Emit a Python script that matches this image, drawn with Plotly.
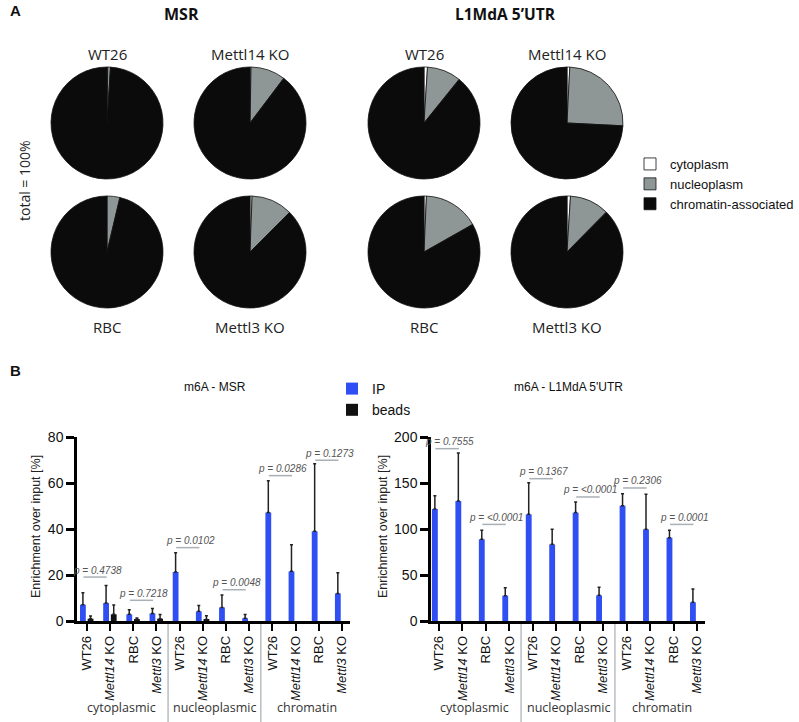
import plotly.graph_objects as go

W, H = 799, 722

# ---------------- panel A : subcellular distribution (pie charts)
compartments = ["cytoplasm", "nucleoplasm", "chromatin-associated"]
pie_samples = ["WT26", "Mettl14 KO", "RBC", "Mettl3 KO"]
msr_fractions = [[0.2, 0.8, 99.0], [0.3, 10.0, 89.7], [0.0, 3.7, 96.3], [0.6, 11.9, 87.5]]
l1_fractions = [[1.0, 9.8, 89.2], [0.8, 25.0, 74.2], [0.7, 16.1, 83.2], [1.0, 11.4, 87.6]]

# ---------------- panel B : m6A enrichment (bar charts)
groups = ["cytoplasmic", "nucleoplasmic", "chromatin"]
cell_lines = ["WT26", "<i>Mettl14</i> KO", "RBC", "<i>Mettl3</i> KO"]
msr_ip = [7.1, 7.8, 2.9, 3.3, 21.3, 4.2, 5.9, 1.2, 47.2, 21.6, 39.0, 12.0]
msr_ip_sd = [5.2, 7.6, 2.0, 2.1, 8.4, 2.5, 5.4, 1.6, 13.8, 11.6, 29.4, 9.0]
msr_beads = [1.0, 2.9, 0.7, 1.0, None, 0.6, None, None, None, None, None, None]
msr_beads_sd = [1.2, 4.1, 0.6, 1.8, None, 1.7, None, None, None, None, None, None]
l1_ip = [121.7, 130.4, 88.8, 27.5, 115.9, 83.3, 117.8, 27.9, 125.4, 99.6, 90.6, 20.3]
l1_ip_sd = [14.5, 52.2, 9.8, 8.7, 34.5, 16.3, 11.5, 8.7, 13.0, 38.1, 8.0, 14.5]

msr_p = ["0.4738", "0.7218", "0.0102", "0.0048", "0.0286", "0.1273"]
msr_bracket = [19.1, 9.0, 31.9, 13.6, 63.2, 69.9]
l1_p = ["0.7555", "&lt;0.0001", "0.1367", "&lt;0.0001", "0.2306", "0.0001"]
l1_bracket = [187.3, 105.0, 154.7, 134.8, 144.6, 105.0]

PIE_COLORS = ["#ffffff", "#8e9796", "#0b0b0b"]
BLUE = "#2f4ff2"
SANS = "Liberation Sans, Arial, sans-serif"
HUM = "Open Sans, sans-serif"


def px(x):
    return x / W


def py(y):
    return 1 - y / H


fig = go.Figure()

# pies: 2x2 grid per target, top row labelled above, bottom row below
R = 56
col_x = {"MSR": [107, 250], "L1": [424, 567]}
row_y = [123, 252]
first = True
for key, fractions in [("MSR", msr_fractions), ("L1", l1_fractions)]:
    for i, (name, vals) in enumerate(zip(pie_samples, fractions)):
        cx = col_x[key][i % 2]
        cy = row_y[i // 2]
        fig.add_trace(go.Pie(
            values=vals, labels=compartments, sort=False, direction="clockwise",
            marker=dict(colors=PIE_COLORS, line=dict(color="#111", width=0.8)),
            textinfo="none", hoverinfo="label+percent", showlegend=first,
            domain=dict(x=[px(cx - R), px(cx + R)], y=[py(cy + R), py(cy - R)]),
        ))
        first = False
        ty = cy - R - 13 if i < 2 else cy + R + 19
        fig.add_annotation(x=px(cx), y=py(ty), xref="paper", yref="paper", text=name,
                           xanchor="center", yanchor="middle", showarrow=False,
                           font=dict(family=HUM, size=15, color="#222"))

# bars
xs = list(range(12))
for ax, ip, sd, beads, bsd in [("", msr_ip, msr_ip_sd, msr_beads, msr_beads_sd), ("2", l1_ip, l1_ip_sd, None, None)]:
    fig.add_trace(go.Bar(
        x=xs, y=ip, offset=-0.30, width=0.25, marker=dict(color=BLUE, line=dict(width=0)),
        error_y=dict(type="data", symmetric=False, array=sd, arrayminus=[0] * 12,
                     color="#222", thickness=1.5, width=1.5),
        name="IP", legend="legend2", showlegend=(ax == ""), xaxis="x" + ax, yaxis="y" + ax,
    ))
    if beads is not None:
        fig.add_trace(go.Bar(
            x=xs, y=beads, offset=0.03, width=0.25, marker=dict(color="#111", line=dict(width=0)),
            error_y=dict(type="data", symmetric=False, array=bsd, arrayminus=[0] * 12,
                         color="#222", thickness=1.5, width=1.5),
            name="beads", legend="legend2", xaxis="x" + ax, yaxis="y" + ax,
        ))

tick_text = cell_lines * len(groups)
xcommon = dict(tickvals=xs, ticktext=tick_text, tickangle=-90, ticks="outside", ticklen=7,
               tickwidth=2, tickcolor="#000", showline=True, linecolor="#000", linewidth=2.5,
               showgrid=False, zeroline=False, tickfont=dict(family=SANS, size=13, color="#111"))
ycommon = dict(ticks="outside", ticklen=8, tickwidth=2.5, tickcolor="#000", showline=True,
               linecolor="#000", linewidth=2.5, showgrid=False, zeroline=False,
               tickfont=dict(family=SANS, size=14, color="#111"))
ydom = [py(621), py(437)]
fig.update_layout(
    xaxis=dict(xcommon, domain=[px(77), px(350)], range=[-0.43, 11.35]),
    yaxis=dict(ycommon, domain=ydom, range=[0, 80], tickvals=[0, 20, 40, 60, 80]),
    xaxis2=dict(xcommon, domain=[px(431), px(705)], range=[-0.34, 11.34], anchor="y2"),
    yaxis2=dict(ycommon, domain=ydom, range=[0, 200], tickvals=[0, 50, 100, 150, 200], anchor="x2"),
)

# p-value brackets, group dividers and labels
for ax, pvals, levels in [("", msr_p, msr_bracket), ("2", l1_p, l1_bracket)]:
    for k, (p, lev) in enumerate(zip(pvals, levels)):
        i = 2 * k
        fig.add_shape(type="line", xref="x" + ax, yref="y" + ax, x0=i - 0.15, x1=i + 0.85,
                      y0=lev, y1=lev, line=dict(color="#a9b0b6", width=1.5))
        fig.add_annotation(xref="x" + ax, yref="y" + ax, x=i + 0.45, y=lev, yshift=7,
                           xanchor="center", yanchor="middle",
                           text=f"<i>p = {p}</i>", showarrow=False,
                           font=dict(family=SANS, size=10, color="#555"))
    for b in [-0.5, 3.5, 7.5, 11.5]:
        fig.add_shape(type="line", xref="x" + ax, yref="paper", x0=b, x1=b, y0=0, y1=ydom[0] - 0.004,
                      line=dict(color="#b7bec2", width=1.5))
    for g, name in enumerate(groups):
        fig.add_annotation(xref="x" + ax, yref="paper", x=4 * g + 1.5, y=py(707), text=name,
                           xanchor="center", yanchor="middle", showarrow=False,
                           font=dict(family=HUM, size=12.5, color="#333"))

texts = [
    ("<b>A</b>", 8, 11, 15, SANS, "left"),
    ("<b>B</b>", 8, 370, 15, SANS, "left"),
    ("<b>MSR</b>", 181, 14, 16, HUM, "center"),
    ("<b>L1MdA 5\u2019UTR</b>", 505, 14, 15.5, HUM, "center"),
    ("m6A - MSR", 215, 387, 12, SANS, "center"),
    ("m6A - L1MdA 5'UTR", 568, 387, 12, SANS, "center"),
]
for t, x, y, s, fam, anc in texts:
    fig.add_annotation(x=px(x), y=py(y), xref="paper", yref="paper", text=t, showarrow=False,
                       xanchor=anc, yanchor="middle", font=dict(family=fam, size=s, color="#111"))
for t, x, y, s, fam in [("total = 100%", 25, 181, 14, HUM),
                        ("Enrichment over input [%]", 36, 527, 12.5, SANS),
                        ("Enrichment over input [%]", 383, 527, 12.5, SANS)]:
    fig.add_annotation(x=px(x), y=py(y), xref="paper", yref="paper", text=t, showarrow=False,
                       xanchor="center", yanchor="middle", textangle=-90,
                       font=dict(family=fam, size=s, color="#222"))

fig.update_layout(
    width=W, height=H, margin=dict(l=0, r=0, t=0, b=0, autoexpand=False),
    paper_bgcolor="white", plot_bgcolor="white", barmode="overlay",
    legend=dict(x=px(630), y=py(149), xanchor="left", yanchor="top", itemwidth=30,
                font=dict(family=SANS, size=13, color="#111"), bgcolor="rgba(0,0,0,0)"),
    legend2=dict(x=px(332), y=py(373), xanchor="left", yanchor="top", itemwidth=30,
                 font=dict(family=SANS, size=14, color="#111"), bgcolor="rgba(0,0,0,0)"),
)

# drop the default body margin so the figure fills the window
fig.write_html("out.html", config={"displayModeBar": False},
               post_script="document.body.style.margin = '0';")
